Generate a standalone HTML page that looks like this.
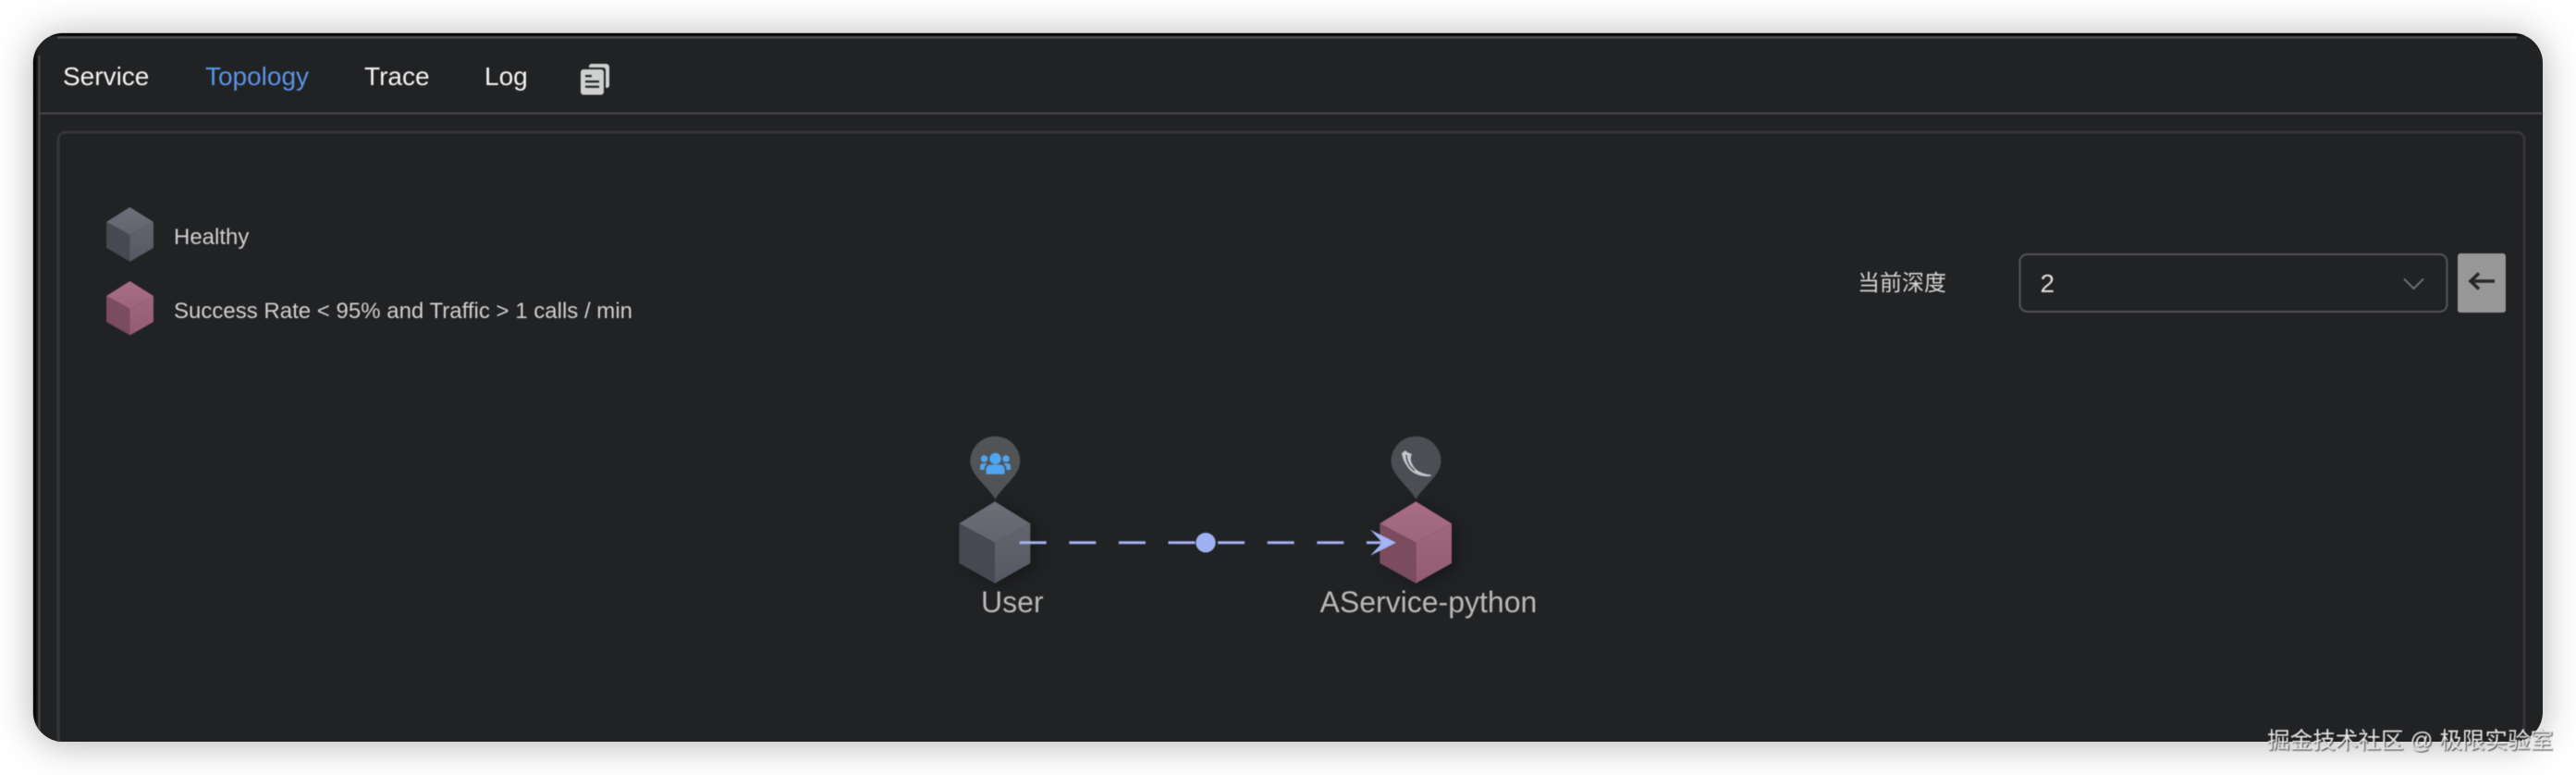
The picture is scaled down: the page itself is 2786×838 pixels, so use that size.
<!DOCTYPE html>
<html>
<head>
<meta charset="utf-8">
<style>
html,body{margin:0;padding:0;background:#fff;width:2786px;height:838px;overflow:hidden}
.card{position:absolute;left:36px;top:36px;width:2714px;height:766px;border-radius:32px;background:#212224;box-shadow:0 2px 42px rgba(0,0,0,.3)}
svg{position:absolute;left:0;top:0;display:block;filter:blur(.45px)}
text{font-family:"Liberation Sans","Noto Sans CJK SC",sans-serif}
.cube{filter:drop-shadow(6px 3px 8px rgba(0,0,0,.32))}
</style>
</head>
<body>
<div class="card"></div>
<svg width="2786" height="838" viewBox="0 0 2786 838" xmlns="http://www.w3.org/2000/svg">
<defs>
<clipPath id="c"><rect x="36" y="36" width="2714" height="766" rx="32"/></clipPath>
<linearGradient id="gt" x1="0" y1="0" x2="0" y2="1"><stop offset="0" stop-color="#6c6f78"/><stop offset="1" stop-color="#62656d"/></linearGradient>
<linearGradient id="gr" x1="0" y1="0" x2="0" y2="1"><stop offset="0" stop-color="#62656d"/><stop offset="1" stop-color="#565961"/></linearGradient>
<linearGradient id="rt" x1="0" y1="0" x2="0" y2="1"><stop offset="0" stop-color="#a86e84"/><stop offset="1" stop-color="#9f667b"/></linearGradient>
<linearGradient id="rr" x1="0" y1="0" x2="0" y2="1"><stop offset="0" stop-color="#a0667c"/><stop offset="1" stop-color="#945c73"/></linearGradient>
</defs>

<g clip-path="url(#c)">
  <rect x="36" y="36" width="2714" height="2.6" fill="#050505"/>
  <rect x="62" y="39.4" width="2660" height="2.2" fill="#545557"/>
  <rect x="36" y="36" width="3" height="766" fill="#060606"/>
  <rect x="39" y="36" width="2.5" height="766" fill="#1a1b1d"/>
  <rect x="41.5" y="60" width="1.8" height="742" fill="#505153"/>
  <rect x="43" y="121.6" width="2707" height="2" fill="#4a4b4d"/>
  <rect x="63" y="143" width="2667" height="690" rx="8" fill="none" stroke="#353638" stroke-width="3"/>
</g>

<!-- nav -->
<text x="68" y="92" font-size="28" fill="#f4f4f4">Service</text>
<text x="222" y="92" font-size="28" fill="#5b95e6" textLength="112" lengthAdjust="spacingAndGlyphs">Topology</text>
<text x="394" y="92" font-size="28" fill="#f4f4f4">Trace</text>
<text x="524" y="92" font-size="28" fill="#f4f4f4">Log</text>
<!-- doc icon -->
<path d="M637 72 Q637 69 640 69 L655 69 Q659 69 659 73 L659 92 Q659 95 656 95 L655 95 L655 76 Q655 73 652 73 L637 73 Z" fill="#cfd0d0"/>
<rect x="628" y="75" width="25" height="27.5" rx="3" fill="#cfd0d0"/>
<rect x="633" y="81" width="7" height="2.4" fill="#2a2b2d"/>
<rect x="633" y="87" width="15" height="2.4" fill="#2a2b2d"/>
<rect x="633" y="92.6" width="15" height="2.4" fill="#2a2b2d"/>

<!-- legend -->
<g>
  <polygon points="140.5,224 166,240 140.5,254 115,240" fill="url(#gt)"/>
  <polygon points="115,240 140.5,254 140.5,283 115,268" fill="#464952"/>
  <polygon points="166,240 140.5,254 140.5,283 166,268" fill="url(#gr)"/>
</g>
<g>
  <polygon points="140.5,304 166,320 140.5,334 115,320" fill="url(#rt)"/>
  <polygon points="115,320 140.5,334 140.5,362.5 115,348" fill="#7a4c5d"/>
  <polygon points="166,320 140.5,334 140.5,362.5 166,348" fill="url(#rr)"/>
</g>
<text x="188" y="264" font-size="24" fill="#d0d0d0">Healthy</text>
<text x="188" y="344" font-size="24" fill="#d0d0d0" textLength="496" lengthAdjust="spacingAndGlyphs">Success Rate &lt; 95% and Traffic &gt; 1 calls / min</text>

<!-- depth select -->
<text x="2009" y="314" font-size="24" fill="#d4d4d4">当前深度</text>
<rect x="2184.5" y="275" width="462" height="62" rx="8" fill="#212224" stroke="#545557" stroke-width="2"/>
<text x="2206.5" y="316" font-size="28" fill="#dedede">2</text>
<path d="M2600 301.5 L2610.5 312 L2621 301.5" fill="none" stroke="#77787a" stroke-width="1.8"/>
<rect x="2658" y="274" width="52" height="64" rx="3" fill="#989898"/>
<path d="M2698 304 L2672 304 M2681 295.5 L2672 304 L2681 312.5" fill="none" stroke="#26272a" stroke-width="3.6"/>

<!-- user node -->
<path d="M1076.3 540 C1069 526 1049.3 514 1049.3 498.7 A27 27 0 1 1 1103.3 498.7 C1103.3 514 1084 526 1076.3 540 Z" fill="#525356"/>
<g fill="#4fa5f0">
  <circle cx="1076.5" cy="496" r="6.2"/>
  <path d="M1066.5 512.7 L1066.5 508 Q1066.5 502.5 1072 502.5 L1081 502.5 Q1086.5 502.5 1086.5 508 L1086.5 512.7 Z"/>
  <circle cx="1064.5" cy="496" r="3.8"/>
  <circle cx="1088" cy="496" r="3.8"/>
  <path d="M1060 508 L1060 504.5 Q1060 501 1063.5 501 L1068 501 Q1064.5 503 1064.5 508 Z"/>
  <path d="M1093 508 L1093 504.5 Q1093 501 1089.5 501 L1085 501 Q1088.5 503 1088.5 508 Z"/>
</g>
<g class="cube">
  <polygon points="1076,542.3 1114.3,566 1076,586.7 1037.3,566" fill="url(#gt)"/>
  <polygon points="1037.3,566 1076,586.7 1076,630.7 1037.3,609" fill="#464952"/>
  <polygon points="1114.3,566 1076,586.7 1076,630.7 1114.3,609" fill="url(#gr)"/>
</g>

<!-- python node -->
<path d="M1531.5 540 C1524 526 1504.5 514 1504.5 498.7 A27 27 0 1 1 1558.5 498.7 C1558.5 514 1539 526 1531.5 540 Z" fill="#4b4e53"/>
<path d="M1516 490 L1520 487 L1522 489 L1527 491 Q1524 496 1528 503 Q1533 512 1548 513.5 L1547 515 Q1531 516 1523 506 Q1517 498 1516 490 Z" fill="#c4c6c9"/>
<path d="M1521 492 Q1521 502 1530 509" fill="none" stroke="#4b4e53" stroke-width="1.4"/>
<g class="cube">
  <polygon points="1531.3,542.3 1570,566 1531.3,586.7 1492.3,566" fill="url(#rt)"/>
  <polygon points="1492.3,566 1531.3,586.7 1531.3,630.7 1492.3,609" fill="#7a4c5d"/>
  <polygon points="1570,566 1531.3,586.7 1531.3,630.7 1570,609" fill="url(#rr)"/>
</g>

<!-- edge -->
<line x1="1102.7" y1="586.7" x2="1500" y2="586.7" stroke="#a3b1f0" stroke-width="3" stroke-dasharray="29 24.6"/>
<polygon points="1482,572.7 1510,586.7 1482,600.7 1495,586.7" fill="#a3b4f7"/>
<circle cx="1304" cy="586.7" r="10.7" fill="#9fb0f2"/>

<!-- labels -->
<text x="1061" y="662" font-size="32" fill="#b8b8b8">User</text>
<text x="1427.5" y="662" font-size="32" fill="#b8b8b8">AService-python</text>

<!-- watermark -->
<text x="2452" y="809" font-size="24.6" fill="#e6e6e6" style="filter:drop-shadow(1px 1px 0.6px rgba(30,30,30,.85))">掘金技术社区 @ 极限实验室</text>
</svg>
</body>
</html>
